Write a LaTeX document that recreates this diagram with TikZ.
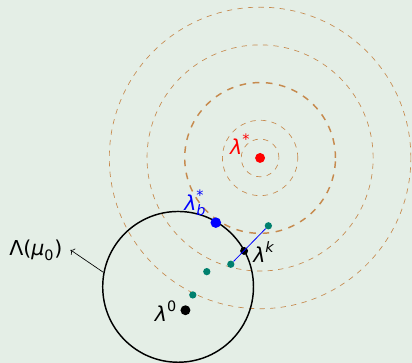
\documentclass[tikz,border=0pt]{standalone}
\usepackage{amsmath}
\usepackage{fontspec}
\setmainfont{DejaVu Sans}
\usepackage{tikz}
\usetikzlibrary{arrows.meta,calc,positioning}
\definecolor{bgmint}{HTML}{E4EEE6}
\definecolor{levelbrown}{HTML}{C68A4E}
\definecolor{iterteal}{HTML}{00806E}
\newcommand{\lam}{\text{\itshape λ}}
\tikzset{
  level/.style={draw=levelbrown,dash pattern=on 4pt off 4pt,line width=0.5pt},
  mainlevel/.style={draw=levelbrown,dash pattern=on 5pt off 5pt,line width=1.1pt},
  iterdot/.style={circle,fill=iterteal,inner sep=0pt,minimum size=5.5pt},
  bigdot/.style={circle,fill=black,inner sep=0pt,minimum size=7.5pt},
  lbl/.style={font=\fontsize{15.5}{18}\selectfont,inner sep=0pt}
}

\begin{document}
\begin{tikzpicture}[x=1cm,y=1cm]
  \fill[bgmint] (-6.90,-5.44) rectangle (4.03,4.19);
  \useasboundingbox (-6.90,-5.44) rectangle (4.03,4.19);
  % level sets around the optimum
  \foreach \r in {0.5,1,3,4}
    \draw[level] (0,0) circle (\r);
  \draw[mainlevel] (0,0) circle (2);
  % feasible ball
  \node[circle,draw,line width=1.1pt,minimum size=4cm,inner sep=0pt] (ball) at (-2.175,-3.42) {};
  \node[circle,fill=red,inner sep=0pt,minimum size=7.5pt] (lstar) at (0,0) {};
  \node[circle,fill=blue,inner sep=0pt,minimum size=8pt] (lb) at (-1.175,-1.716) {};
  \node[iterdot] (t1) at (0.22,-1.80) {};
  \node[iterdot] (t2) at (-0.777,-2.82) {};
  \node[iterdot] (t3) at (-1.414,-3.016) {};
  \node[iterdot] (t4) at (-1.785,-3.634) {};
  \node[bigdot,minimum size=6pt] (lk) at (-0.424,-2.467) {};
  \node[bigdot] (l0) at (-1.98,-4.04) {};
  \draw[blue,line width=0.6pt] (t2) -- (t1);
  % labels
  \node[lbl,red] (starlbl) at (-0.53,0.37) {$\lam^{\text{*}}$};
  \node[lbl,blue] (blbl) at (-1.72,-1.19) {$\lam^{\text{*}}_{\text{\itshape b}}$};
  \node[lbl] (klbl) at (0.10,-2.49) {$\lam^{\text{\itshape k}}$};
  \node[lbl] (zlbl) at (-2.50,-4.06) {$\lam^{\text{0}}$};
  \node[lbl] (set) at (-5.95,-2.44) {Λ($\text{\itshape μ}_{\text{0}}$)};
  \draw[->,line width=0.5pt] (ball.169) -- ([xshift=6pt,yshift=0pt]set.east);
\end{tikzpicture}
\end{document}
